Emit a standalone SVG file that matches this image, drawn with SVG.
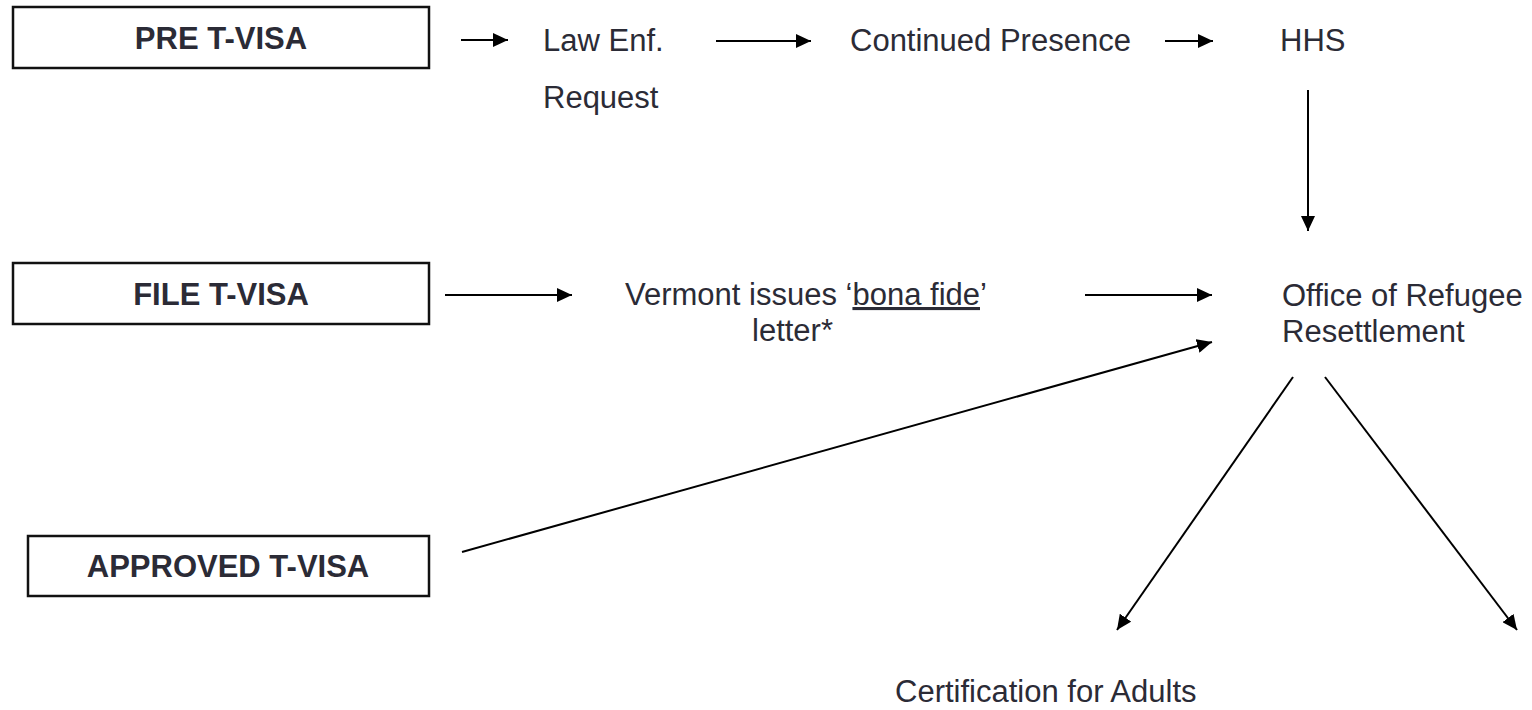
<svg xmlns="http://www.w3.org/2000/svg" width="1532" height="710" viewBox="0 0 1532 710">
<style>
.box{fill:#fff;stroke:#111;stroke-width:2.5}
.b{font-family:"Liberation Sans",Arial,sans-serif;font-weight:bold;font-size:31px;fill:#2b2b36;text-anchor:middle}
.t{font-family:"Liberation Sans",Arial,sans-serif;font-size:31px;fill:#2b2b36}
.c{stroke:#000;stroke-width:2;fill:none;marker-end:url(#ah)}
</style>
<defs>
<marker id="ah" markerUnits="userSpaceOnUse" markerWidth="16" markerHeight="14" refX="15" refY="7" orient="auto">
<path d="M0,0 L15,7 L0,14 z" fill="#000"/>
</marker>
</defs>
<rect width="1532" height="710" fill="#fff"/>
<g id="pre"><rect class="box" x="13" y="7" width="416" height="61"/><text class="b" x="221" y="49">PRE T-VISA</text></g>
<g id="file"><rect class="box" x="13" y="263" width="416" height="61"/><text class="b" x="221" y="305">FILE T-VISA</text></g>
<g id="approved"><rect class="box" x="28" y="536" width="401" height="60"/><text class="b" x="228" y="577">APPROVED T-VISA</text></g>
<g id="law"><text class="t" x="543" y="51">Law Enf.</text><text class="t" x="543" y="108">Request</text></g>
<g id="continued"><text class="t" x="850" y="51">Continued Presence</text></g>
<g id="hhs"><text class="t" x="1280" y="51">HHS</text></g>
<g id="vermont"><text class="t" x="625" y="305">Vermont issues ‘<tspan text-decoration="underline">bona fide</tspan>’</text><text class="t" x="752" y="341">letter*</text></g>
<g id="orr"><text class="t" x="1282" y="306">Office of Refugee</text><text class="t" x="1282" y="342">Resettlement</text></g>
<g id="cert"><text class="t" x="895" y="702">Certification for Adults</text></g>
<g id="connectors">
<line class="c" x1="461" y1="40" x2="508" y2="40"/>
<line class="c" x1="716" y1="41" x2="811" y2="41"/>
<line class="c" x1="1165" y1="41" x2="1213" y2="41"/>
<line class="c" x1="1308" y1="90" x2="1308" y2="231"/>
<line class="c" x1="445" y1="295" x2="572" y2="295"/>
<line class="c" x1="1085" y1="295" x2="1212" y2="295"/>
<line class="c" x1="462" y1="552" x2="1212" y2="342"/>
<line class="c" x1="1293" y1="377" x2="1117" y2="630"/>
<line class="c" x1="1325" y1="377" x2="1517" y2="630"/>
</g>
</svg>
